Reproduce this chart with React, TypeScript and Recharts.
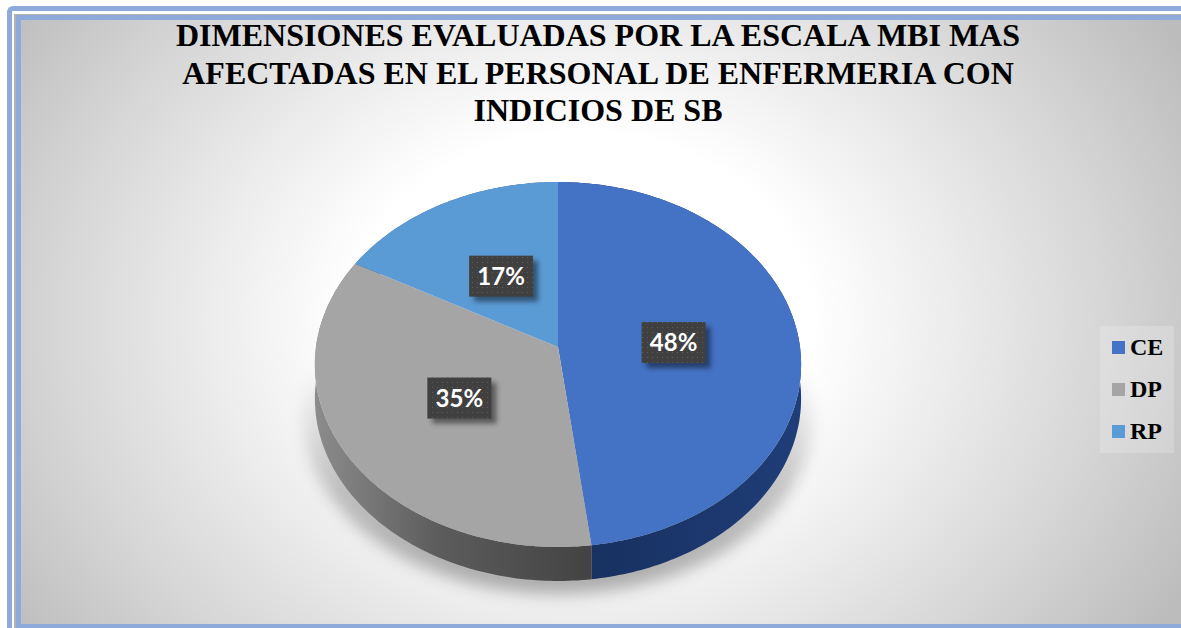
import { Legend, Pie, PieChart, Cell } from "recharts";

const categories = ["CE", "DP", "RP"];
const shares = [48, 35, 17];
const faceColors = ["#4472c4", "#a5a5a5", "#5b9bd5"];
const wallFills = ["url(#wallBlue)", "url(#wallGray)", "#2f5f8f"];
const titleLines = [
  "DIMENSIONES EVALUADAS POR LA ESCALA MBI MAS",
  "AFECTADAS EN EL PERSONAL DE ENFERMERIA CON",
  "INDICIOS DE SB",
];

const rows = categories.map((name, i) => ({ name, value: shares[i] }));

const WIDTH = 1181;
const HEIGHT = 628;
const PIE_X = 558;
const PIE_Y = 347;
const RADIUS = 242;
const DEPTH = 34;
const TILT = 0.0959; // foreshortening towards the back of the disc
const SQUASH = 0.6095; // vertical scale of the disc seen at an angle

// Projects a point of the flat disc onto the tilted one
function project(cx: number, cy: number, r: number, deg: number, frac: number) {
  const rad = ((90 - deg) * Math.PI) / 180;
  const u = Math.sin(rad) * frac;
  const v = Math.cos(rad) * frac;
  const w = 1 + TILT * v;
  return { x: cx + (r * u) / w, y: (cy - r * SQUASH * v) / w };
}

function rimPoints(p: any) {
  const pts = [];
  const steps = Math.max(2, Math.ceil(Math.abs(p.endAngle - p.startAngle)));
  for (let i = 0; i <= steps; i++) {
    const a = p.startAngle + ((p.endAngle - p.startAngle) * i) / steps;
    pts.push(project(p.cx, p.cy, p.outerRadius, a, 1));
  }
  return pts;
}

const toPath = (pts: { x: number; y: number }[]) =>
  pts.map((q, i) => `${i ? "L" : "M"}${q.x.toFixed(1)} ${q.y.toFixed(1)}`).join(" ") + " Z";

function FaceSector(p: any) {
  const pts = [{ x: p.cx, y: p.cy }, ...rimPoints(p)];
  return <path d={toPath(pts)} fill={p.fill} />;
}

function WallSector(p: any) {
  const rim = rimPoints(p);
  const lower = rim.map((q) => ({ x: q.x, y: q.y + DEPTH })).reverse();
  return <path d={toPath([...rim, ...lower])} fill={p.fill} />;
}

function ValueLabel(p: any) {
  const c = project(p.cx, p.cy, p.outerRadius, p.midAngle, 0.48);
  const w = 64;
  const h = 41;
  const top = c.y + 1 - h / 2;
  return (
    <g>
      <rect x={c.x - w / 2 + 5} y={top + 5} width={w} height={h} fill="#000" opacity={0.45} filter="url(#labelBlur)" />
      <rect x={c.x - w / 2} y={top} width={w} height={h} fill="#404040" />
      <rect x={c.x - w / 2} y={top} width={w} height={h} fill="url(#labelDots)" />
      <text
        x={c.x}
        y={top + 29}
        textAnchor="middle"
        fill="#ffffff"
        fontFamily="Lato, 'Open Sans', sans-serif"
        fontWeight={700}
        fontSize={24}
      >
        {p.value}%
      </text>
    </g>
  );
}

function LegendBox({ payload }: any) {
  // both pies report entries, keep one per category
  const items = categories.filter((c) => payload.some((it: any) => it.value === c));
  return (
    <div style={{ width: 74, height: 127, background: "rgba(255,255,255,0.2)", position: "relative" }}>
      {items.map((name, i) => (
        <div key={name} style={{ position: "absolute", left: 12, top: 15 + i * 42, display: "flex", alignItems: "center" }}>
          <span style={{ width: 13, height: 13, background: faceColors[i], display: "inline-block" }} />
          <span style={{ marginLeft: 5, font: "bold 24px 'Liberation Serif', serif", color: "#000", lineHeight: "13px" }}>
            {name}
          </span>
        </div>
      ))}
    </div>
  );
}

export default function App() {
  return (
    <div style={{ position: "absolute", left: 0, top: 0, width: WIDTH, height: HEIGHT, overflow: "hidden", background: "#fff" }}>
      {/* double frame, open on the right edge */}
      <div style={{ position: "absolute", left: 7, top: 6, width: WIDTH, height: HEIGHT, boxSizing: "border-box", borderLeft: "5px solid #8eaadb", borderTop: "5px solid #8eaadb", borderTopLeftRadius: 6 }} />
      <div
        style={{
          position: "absolute",
          left: 14,
          top: 14,
          width: WIDTH - 14,
          height: HEIGHT - 14,
          boxSizing: "border-box",
          borderLeft: "2px solid #b4b4b4",
          borderTop: "1px solid #b4b4b4",
        }}
      />
      <div
        style={{
          position: "absolute",
          left: 16,
          top: 15,
          width: WIDTH - 16,
          height: HEIGHT - 15,
          boxSizing: "border-box",
          borderLeft: "5px solid #8eaadb",
          borderTop: "5px solid #8eaadb",
          borderBottom: "4px solid #8eaadb",
          background: "radial-gradient(ellipse 640px 520px at 560px 300px, #ffffff 0%, #ffffff 36%, #ececec 58%, #d6d6d6 82%, #bcbcbc 108%)",
        }}
      />
      <div
        style={{
          position: "absolute",
          left: 0,
          top: 17,
          width: 1196,
          textAlign: "center",
          font: "bold 32px/37.5px 'Liberation Serif', serif",
          color: "#000",
        }}
      >
        {titleLines.map((line) => (
          <div key={line}>{line}</div>
        ))}
      </div>
      <PieChart width={WIDTH} height={HEIGHT} margin={{ top: 0, right: 0, bottom: 0, left: 0 }} style={{ position: "absolute", left: 0, top: 0 }}>
        <defs>
          <filter id="pieShadow" x="-20%" y="-20%" width="140%" height="140%">
            <feGaussianBlur stdDeviation="8" />
          </filter>
          <filter id="labelBlur" x="-30%" y="-30%" width="160%" height="160%">
            <feGaussianBlur stdDeviation="2.5" />
          </filter>
          <linearGradient id="wallBlue" x1="0" y1="0" x2="1" y2="0">
            <stop offset="0%" stopColor="#162f5c" />
            <stop offset="100%" stopColor="#1f3d78" />
          </linearGradient>
          <linearGradient id="wallGray" x1="0" y1="0" x2="1" y2="0">
            <stop offset="0%" stopColor="#8c8c8c" />
            <stop offset="45%" stopColor="#5c5c5c" />
            <stop offset="100%" stopColor="#434343" />
          </linearGradient>
          <linearGradient id="shadowFade" x1="0" y1="0" x2="0" y2="1">
            <stop offset="35%" stopColor="#000" stopOpacity={0} />
            <stop offset="70%" stopColor="#000" stopOpacity={0.22} />
            <stop offset="100%" stopColor="#000" stopOpacity={0.3} />
          </linearGradient>
          <pattern id="labelDots" width="5" height="5" patternUnits="userSpaceOnUse">
            <rect x="2" y="2" width="1" height="1" fill="#5c5c5c" />
          </pattern>
        </defs>
        {/* soft drop shadow under the disc, fading out towards the top */}
        <ellipse cx={PIE_X} cy={418} rx={254} ry={176} fill="url(#shadowFade)" filter="url(#pieShadow)" />
        <Pie
          data={rows}
          dataKey="value"
          nameKey="name"
          cx={PIE_X}
          cy={PIE_Y}
          outerRadius={RADIUS}
          startAngle={90}
          endAngle={-270}
          stroke="none"
          legendType="none"
          shape={WallSector}
          isAnimationActive={false}
        >
          {rows.map((r, i) => (
            <Cell key={r.name} fill={wallFills[i]} />
          ))}
        </Pie>
        <Pie
          data={rows}
          dataKey="value"
          nameKey="name"
          cx={PIE_X}
          cy={PIE_Y}
          outerRadius={RADIUS}
          startAngle={90}
          endAngle={-270}
          stroke="none"
          shape={FaceSector}
          label={ValueLabel}
          labelLine={false}
          isAnimationActive={false}
        >
          {rows.map((r, i) => (
            <Cell key={r.name} fill={faceColors[i]} />
          ))}
        </Pie>
        <Legend
          layout="vertical"
          align="right"
          verticalAlign="top"
          content={LegendBox}
          wrapperStyle={{ left: 1100, top: 326, width: 74, height: 127 }}
        />
      </PieChart>
    </div>
  );
}
